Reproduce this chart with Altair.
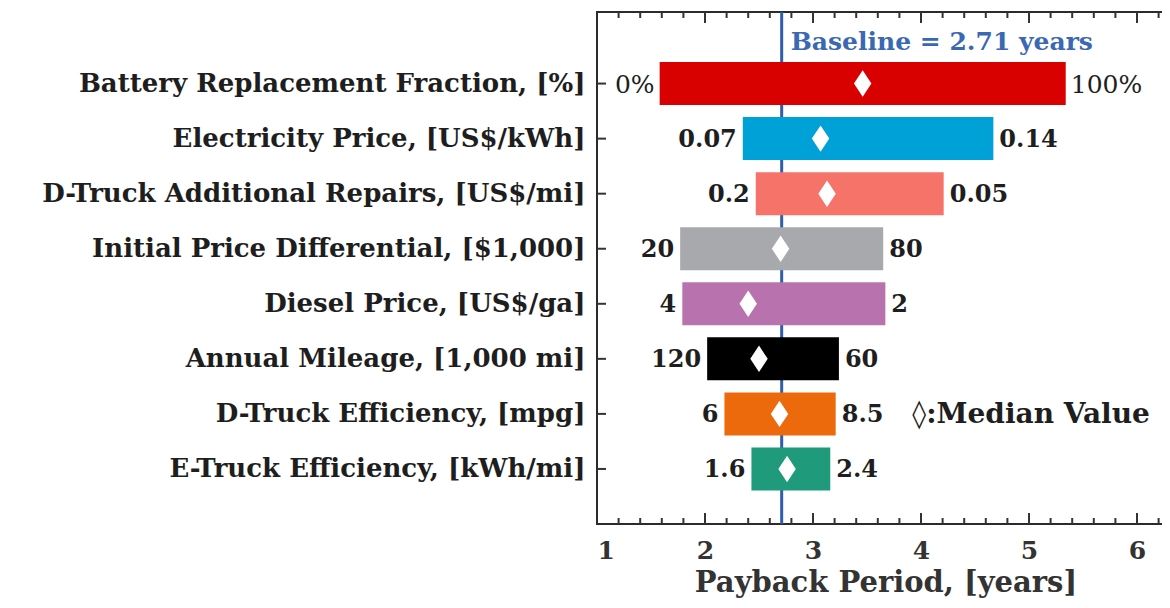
import altair as alt
import pandas as pd

# ---------------- data ----------------
categories = [
    "Battery Replacement Fraction, [%]",
    "Electricity Price, [US$/kWh]",
    "D-Truck Additional Repairs, [US$/mi]",
    "Initial Price Differential, [$1,000]",
    "Diesel Price, [US$/ga]",
    "Annual Mileage, [1,000 mi]",
    "D-Truck Efficiency, [mpg]",
    "E-Truck Efficiency, [kWh/mi]",
]
positions = [8, 7, 6, 5, 4, 3, 2, 1]
low_years = [1.58, 2.35, 2.47, 1.77, 1.79, 2.02, 2.18, 2.43]
high_years = [5.34, 4.67, 4.21, 3.65, 3.67, 3.24, 3.21, 3.16]
median_years = [3.46, 3.07, 3.13, 2.70, 2.40, 2.50, 2.69, 2.76]
low_labels = ["0%", "0.07", "0.2", "20", "4", "120", "6", "1.6"]
high_labels = ["100%", "0.14", "0.05", "80", "2", "60", "8.5", "2.4"]
label_weight = ["normal", "bold", "bold", "bold", "bold", "bold", "bold", "bold"]
colors = ["#D90000", "#00A1D7", "#F6736A", "#A7A9AC", "#B873AF", "#000000", "#EC6A0C", "#1F9A7B"]
baseline_years = 2.71

x_ticks_major = [2, 3, 4, 5, 6]
x_ticks_minor = [1.2, 1.4, 1.6, 1.8, 2.2, 2.4, 2.6, 2.8, 3.2, 3.4, 3.6, 3.8,
                 4.2, 4.4, 4.6, 4.8, 5.2, 5.4, 5.6, 5.8, 6.2]
x_labels = [1, 2, 3, 4, 5, 6]

# ---------------- layout ----------------
W = 577
H = 512
FONT = "DejaVu Serif"
TXT = "#1E1E1E"
BLUE = "#2E5EAA"

df = pd.DataFrame({
    "cat": categories, "pos": positions, "low": low_years, "high": high_years,
    "median": median_years, "low_lab": low_labels, "high_lab": high_labels,
    "weight": label_weight,
})

xscale = alt.Scale(domain=[1, 1 + W / 108.0], nice=False, zero=False, padding=0)
yscale = alt.Scale(domain=[0, 9.3], nice=False, zero=False, padding=0)

name_lookup = "[" + ",".join("'" + c + "'" for c in reversed(categories)) + "][datum.value - 1]"

xaxis = alt.Axis(values=x_labels, format="d", ticks=False, tickSize=0, domain=False, grid=False,
                 labelFont=FONT, labelFontSize=25, labelFontWeight="bold", labelColor="#333333",
                 labelPadding=14, title="Payback Period, [years]", titleFont=FONT,
                 titleFontSize=29, titleFontWeight="bold", titleColor="#333333", titlePadding=5)
yaxis = alt.Axis(values=positions, labelExpr=name_lookup, ticks=False, tickSize=0, domain=False,
                 grid=False, labelFont=FONT, labelFontSize=26, labelFontWeight="bold",
                 labelColor=TXT, labelPadding=12, labelLimit=0, title=None)

base = alt.Chart(df)

baseline_rule = alt.Chart(pd.DataFrame({"x": [baseline_years]})).mark_rule(
    color=BLUE, strokeWidth=3).encode(x=alt.X("x:Q", scale=xscale, axis=xaxis))

bars = base.mark_bar(size=43, orient="horizontal").encode(
    x=alt.X("low:Q", scale=xscale, axis=xaxis),
    x2="high:Q",
    y=alt.Y("pos:Q", scale=yscale, axis=yaxis),
    color=alt.Color("cat:N", scale=alt.Scale(domain=categories, range=colors), legend=None),
)

diamond = "M0,-1L0.66,0L0,1L-0.66,0Z"
meds = base.mark_point(shape=diamond, size=700, filled=True, fill="white", opacity=1,
                       strokeWidth=0).encode(x="median:Q", y="pos:Q")

low_b = base.transform_filter("datum.weight == 'bold'").mark_text(
    align="right", baseline="middle", dx=-6, dy=1, font=FONT, fontSize=24, fontWeight="bold",
    color=TXT).encode(x="low:Q", y="pos:Q", text="low_lab:N")
high_b = base.transform_filter("datum.weight == 'bold'").mark_text(
    align="left", baseline="middle", dx=6, dy=1, font=FONT, fontSize=24, fontWeight="bold",
    color=TXT).encode(x="high:Q", y="pos:Q", text="high_lab:N")
low_n = base.transform_filter("datum.weight == 'normal'").mark_text(
    align="right", baseline="middle", dx=-5, dy=1, font=FONT, fontSize=25, fontWeight="normal",
    color=TXT).encode(x="low:Q", y="pos:Q", text="low_lab:N")
high_n = base.transform_filter("datum.weight == 'normal'").mark_text(
    align="left", baseline="middle", dx=5, dy=1, font=FONT, fontSize=25, fontWeight="normal",
    color=TXT).encode(x="high:Q", y="pos:Q", text="high_lab:N")

baseline_text = alt.Chart(pd.DataFrame({"x": [baseline_years], "y": [8.75],
                                        "t": ["Baseline = 2.71 years"]})).mark_text(
    align="left", baseline="middle", dx=9, font=FONT, fontSize=25, fontWeight="bold",
    color="#3A68B2").encode(x="x:Q", y="y:Q", text="t:N")

median_text = alt.Chart(pd.DataFrame({"x": [3.92], "y": [2], "t": ["\u25CA:Median Value"]})).mark_text(
    align="left", baseline="middle", dy=1, font=FONT, fontSize=28, fontWeight="bold",
    color=TXT).encode(x="x:Q", y="y:Q", text="t:N")

# frame ticks (inward)
tick_major = pd.DataFrame({"x": x_ticks_major})
tick_minor = pd.DataFrame({"x": x_ticks_minor})
ycats = pd.DataFrame({"y": positions})
TC = "#333333"
top_major = alt.Chart(tick_major).mark_rule(color=TC, strokeWidth=2).encode(
    x="x:Q", y=alt.value(0), y2=alt.value(11))
top_minor = alt.Chart(tick_minor).mark_rule(color=TC, strokeWidth=2).encode(
    x="x:Q", y=alt.value(0), y2=alt.value(6))
bot_major = alt.Chart(tick_major).mark_rule(color=TC, strokeWidth=2).encode(
    x="x:Q", y=alt.value(H), y2=alt.value(H - 11))
bot_minor = alt.Chart(tick_minor).mark_rule(color=TC, strokeWidth=2).encode(
    x="x:Q", y=alt.value(H), y2=alt.value(H - 6))
left_t = alt.Chart(ycats).mark_rule(color=TC, strokeWidth=2).encode(
    y="y:Q", x=alt.value(0), x2=alt.value(9))
right_t = alt.Chart(ycats).mark_rule(color=TC, strokeWidth=2).encode(
    y="y:Q", x=alt.value(W), x2=alt.value(W - 9))

chart = alt.layer(
    baseline_rule, bars, meds, low_b, high_b, low_n, high_n, baseline_text, median_text,
    top_major, top_minor, bot_major, bot_minor, left_t, right_t,
).properties(
    width=W, height=H,
    autosize=alt.AutoSizeParams(type="none"),
    padding={"left": 589, "top": 4, "right": 1154 - 589 - W, "bottom": 76},
).configure(background="white").configure_view(stroke="#2B2B2B", strokeWidth=2)

chart.save("out.html", embed_options={"renderer": "svg", "actions": False})
